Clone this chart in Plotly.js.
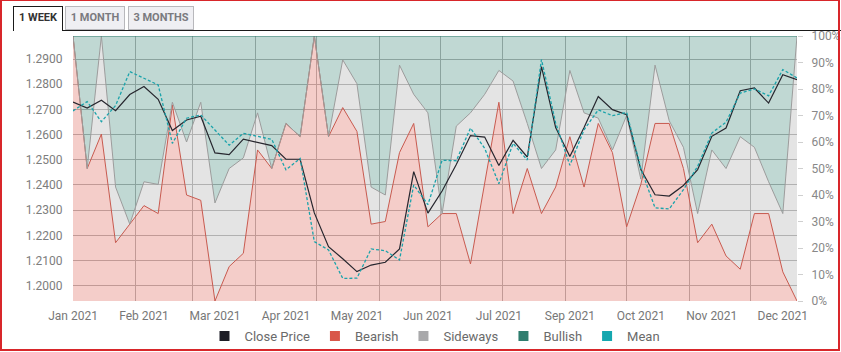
<!DOCTYPE html>
<html><head><meta charset="utf-8">
<script src="https://cdn.plot.ly/plotly-3.0.1.min.js"></script>
<style>
html,body{margin:0;padding:0;background:#fff;width:841px;height:352px;overflow:hidden;font-family:Roboto,Arial,sans-serif;}
#wrap{position:relative;width:841px;height:352px;}
#chart{position:absolute;left:0;top:0;width:841px;height:352px;}
.frame{position:absolute;left:0;top:-1px;width:836px;height:348px;border:2px solid #d8262a;z-index:5;pointer-events:none;}
.tabline{position:absolute;left:63px;top:30px;width:778px;height:1px;background:#1a1a1a;z-index:3;}
.tab{position:absolute;top:6px;height:24px;box-sizing:border-box;font:bold 11px Roboto,Arial,sans-serif;line-height:22px;text-align:center;z-index:4;}
.tab.active{border:1px solid #1a1a1a;border-bottom:none;background:#fff;color:#333;height:25px;}
.tab.inactive{border:1px solid #b8b8bc;background:#efeff3;color:#7a7a7f;}
</style>
</head><body>
<div id="wrap">
  <div id="chart"></div>
  <div class="tabline"></div>
  <div class="tab active" style="left:13px;width:50px;">1 WEEK</div>
  <div class="tab inactive" style="left:65px;width:60px;">1 MONTH</div>
  <div class="tab inactive" style="left:128px;width:66px;">3 MONTHS</div>
  <div class="frame"></div>
</div>
<script>
var dates = ['2021-01-01','2021-01-08','2021-01-15','2021-01-22','2021-01-29',
  '2021-02-05','2021-02-12','2021-02-19','2021-02-26',
  '2021-03-05','2021-03-12','2021-03-19','2021-03-26',
  '2021-04-02','2021-04-09','2021-04-16','2021-04-23','2021-04-30',
  '2021-05-07','2021-05-14','2021-05-21','2021-05-28',
  '2021-06-04','2021-06-11','2021-06-18','2021-06-25',
  '2021-07-02','2021-07-09','2021-07-16','2021-07-23','2021-07-30',
  '2021-08-06','2021-08-13','2021-08-20','2021-08-27',
  '2021-09-03','2021-09-10','2021-09-17','2021-09-24',
  '2021-10-01','2021-10-08','2021-10-15','2021-10-22','2021-10-29',
  '2021-11-05','2021-11-12','2021-11-19','2021-11-26',
  '2021-12-03','2021-12-10','2021-12-17','2021-12-24'];

var bearish = [100,50,63,22,29,36,33,74,40,38,0,13,18,57,50,67,62,100,62,73,64,29,30,56,67,28,
  33,33,14,44,75,33,50,33,43,62,43,67,56,28,44,67,67,50,22,29,17,12,33,33,11,0];
var sideways = [0,0,37,21,0,9,11,1,20,37,37,37,36,14,0,0,0,0,0,18,18,14,10,33,11,43,
  0,33,57,34,12,50,17,17,14,25,28,2,1,42,2,22,1,8,11,28,33,50,25,12,22,100];
var bullish = [0,50,0,57,71,55,56,25,40,25,63,50,46,29,50,33,38,0,38,9,18,57,60,11,22,29,
  67,34,29,22,13,17,33,50,43,13,29,31,43,30,54,11,32,42,67,43,50,38,42,55,67,0];

var closePrice = [1.2729,1.2705,1.2736,1.2695,1.2759,1.2791,1.2740,1.2616,1.2658,1.2673,1.2527,1.2520,1.2582,
  1.2570,1.2556,1.2502,1.2502,1.2289,1.2155,1.2107,1.2056,1.2082,1.2093,1.2146,1.2453,1.2288,
  1.2376,1.2481,1.2596,1.2590,1.2477,1.2577,1.2511,1.2870,1.2628,1.2513,1.2628,1.2751,1.2699,
  1.2679,1.2461,1.2361,1.2356,1.2398,1.2461,1.2593,1.2626,1.2774,1.2785,1.2725,1.2838,1.2818];
var meanPrice = [1.2694,1.2731,1.2651,1.2715,1.2850,1.2823,1.2797,1.2565,1.2665,1.2678,1.2618,1.2558,1.2605,
  1.2592,1.2581,1.2460,1.2505,1.2175,1.2142,1.2029,1.2030,1.2146,1.2139,1.2102,1.2400,1.2322,
  1.2498,1.2496,1.2626,1.2545,1.2405,1.2565,1.2499,1.2898,1.2646,1.2478,1.2619,1.2698,1.2675,
  1.2688,1.2465,1.2309,1.2305,1.2381,1.2474,1.2606,1.2649,1.2765,1.2781,1.2754,1.2858,1.2825];

var labelDates = ['2021-01-01','2021-02-05','2021-03-12','2021-04-16','2021-05-21','2021-06-25',
  '2021-07-30','2021-09-03','2021-10-08','2021-11-12','2021-12-17'];
var labelTexts = ['Jan 2021','Feb 2021','Mar 2021','Apr 2021','May 2021','Jun 2021',
  'Jul 2021','Sep 2021','Oct 2021','Nov 2021','Dec 2021'];
var monthStarts = ['2021-02-01','2021-03-01','2021-04-01','2021-05-01','2021-06-01','2021-07-01',
  '2021-08-01','2021-09-01','2021-10-01','2021-11-01','2021-12-01'];
var priceTicks = [1.20,1.21,1.22,1.23,1.24,1.25,1.26,1.27,1.28,1.29];
var pctTicks = [0,10,20,30,40,50,60,70,80,90,100];
var pctLabels = ['0%','10%','20%','30%','40%','50%','60%','70%','80%','90%','100%'];

var seriesNames = ['Close Price','Bearish','Sideways','Bullish','Mean'];
var seriesColors = ['#1d1d26','#d9574a','#a9a9ab','#2f7d6e','#15a7af'];

var traces = [
  {x:dates, y:bearish, name:'Bearish', type:'scatter', mode:'lines', stackgroup:'pct',
   line:{color:'#c85a4f', width:1}, fillcolor:'rgba(222,98,86,0.32)', xaxis:'x', yaxis:'y', showlegend:false, hoverinfo:'skip'},
  {x:dates, y:sideways, name:'Sideways', type:'scatter', mode:'lines', stackgroup:'pct',
   line:{color:'#9c9c9c', width:1}, fillcolor:'rgba(170,170,170,0.32)', xaxis:'x', yaxis:'y', showlegend:false, hoverinfo:'skip'},
  {x:dates, y:bullish, name:'Bullish', type:'scatter', mode:'lines', stackgroup:'pct',
   line:{color:'#2f7d6e', width:1.2}, fillcolor:'rgba(47,125,110,0.3)', xaxis:'x', yaxis:'y', showlegend:false, hoverinfo:'skip'},
  {x:dates, y:closePrice, name:'Close Price', type:'scatter', mode:'lines',
   line:{color:'#26262e', width:1.2}, xaxis:'x2', yaxis:'y2', showlegend:false, hoverinfo:'skip'},
  {x:dates, y:meanPrice, name:'Mean', type:'scatter', mode:'lines',
   line:{color:'#1aa3ab', width:1.3, dash:'3px,2px'}, xaxis:'x2', yaxis:'y2', showlegend:false, hoverinfo:'skip'}
];
for (var i = 0; i < seriesNames.length; i++) {
  traces.push({x:[null], y:[null], name:seriesNames[i], type:'scatter', mode:'markers',
    marker:{symbol:'square', size:10, color:seriesColors[i]}, xaxis:'x2', yaxis:'y2', showlegend:true, hoverinfo:'skip'});
}

var layout = {
  width:841, height:352,
  margin:{l:73, r:44, t:36, b:51, autoexpand:false},
  paper_bgcolor:'rgba(0,0,0,0)', plot_bgcolor:'#ffffff',
  font:{family:'Roboto, Arial, sans-serif', size:12, color:'#777'},
  showlegend:true,
  legend:{orientation:'h', traceorder:'normal', x:0.5, xanchor:'center', y:-0.132, yanchor:'middle',
    font:{size:13, color:'#6a6a6a'}, itemwidth:30, bgcolor:'rgba(0,0,0,0)'},
  xaxis:{type:'date', range:[dates[0], dates[dates.length-1]], tickvals:monthStarts, showticklabels:false,
    showgrid:true, gridcolor:'#b4b4b4', gridwidth:1, ticks:'', zeroline:false, showline:false, fixedrange:true},
  yaxis:{range:[0,100], side:'right', tickmode:'array', tickvals:pctTicks, ticktext:pctLabels, showgrid:false, zeroline:false,
    ticks:'outside', ticklen:5, tickcolor:'#cfcfcf', ticklabelstandoff:6, tickfont:{color:'#888', size:12}, fixedrange:true},
  xaxis2:{type:'date', overlaying:'x', anchor:'y2', side:'bottom', range:[dates[0], dates[dates.length-1]],
    tickmode:'array', tickvals:labelDates, ticktext:labelTexts, showgrid:false, ticks:'outside', ticklen:4, tickcolor:'rgba(0,0,0,0)',
    tickfont:{size:12, color:'#777'}, zeroline:false, showline:false, fixedrange:true},
  yaxis2:{overlaying:'y', side:'left', anchor:'x2', range:[1.19393, 1.29913], tickmode:'array', tickvals:priceTicks, tickformat:'.4f',
    showgrid:true, gridcolor:'#b4b4b4', gridwidth:1, zeroline:false, ticks:'outside', ticklen:7, tickcolor:'rgba(0,0,0,0)',
    tickfont:{size:12, color:'#7d7d7d'}, fixedrange:true}
};

Plotly.newPlot('chart', traces, layout, {displayModeBar:false, staticPlot:true});
</script>
</body></html>
